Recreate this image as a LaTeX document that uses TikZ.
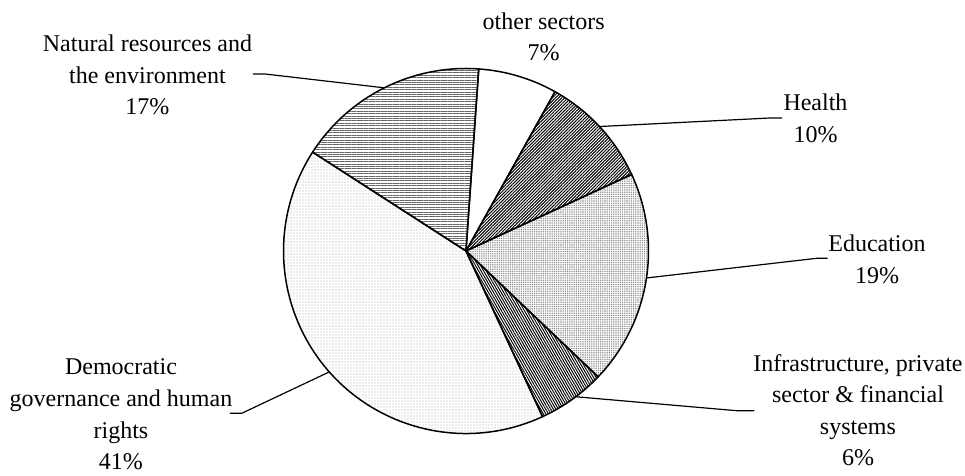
\documentclass[tikz,border=0pt]{standalone}
\usepackage{fontspec}
\setmainfont{Liberation Serif}
\usetikzlibrary{patterns.meta}
\tikzset{
  slice/.style={draw=black,line width=0.75pt,line join=round},
  leader/.style={draw=black,line width=0.6pt},
  lbl/.style={align=center,inner sep=0pt,font=\fontsize{12}{15.8}\selectfont},
  fillother/.style={fill=white},
  fillhealth/.style={pattern={Lines[angle=45,distance=1.1pt,line width=0.5pt]},pattern color=black},
  filleduc/.style={pattern={Dots[radius=0.38pt,distance=1.1pt]},pattern color=black!45},
  fillinfra/.style={pattern={Lines[angle=-60,distance=1.1pt,line width=0.5pt]},pattern color=black},
  filldemoc/.style={pattern={Dots[radius=0.3pt,distance=1.5pt]},pattern color=black!30},
  fillnatural/.style={pattern={Lines[angle=0,distance=1.2pt,line width=0.4pt]},pattern color=black!60}
}
\newcommand{\R}{182.5}

\begin{document}
\begin{tikzpicture}[x=0.5pt,y=0.5pt]
      \fill[white] (-466,-225) rectangle (499,251);
      \useasboundingbox (-466,-225) rectangle (499,251);
      % slices
      \foreach \a/\b/\s in {86/60.8/fillother,60.8/24.8/fillhealth,24.8/-43.6/filleduc,
                            -43.6/-65.2/fillinfra,-65.2/-212.8/filldemoc,147.2/86/fillnatural}
        \path[\s] (0,0) -- (\a:\R) arc[start angle=\a,end angle=\b,radius=\R] -- cycle;
      \foreach \a/\b in {86/60.8,60.8/24.8,24.8/-43.6,-43.6/-65.2,-65.2/-212.8,147.2/86}
        \draw[slice] (0,0) -- (\a:\R) arc[start angle=\a,end angle=\b,radius=\R] -- cycle;
      % labels
      \node[lbl] (natural) at (-318.5,176) {Natural resources and\\the environment\\17\%};
      \node[lbl] (other) at (77.7,214) {other sectors\\7\%};
      \node[lbl] (health) at (349.5,132.5) {Health\\10\%};
      \node[lbl] (educ) at (411,-8.3) {Education\\19\%};
      \node[lbl] (infra) at (392,-159.2) {Infrastructure, private\\sector \& financial\\systems\\6\%};
      \node[lbl] (democ) at (-345,-163.5) {Democratic\\governance and human\\rights\\41\%};
      % leader lines
      \coordinate (natural-p) at (116.6:\R);
      \coordinate (natural-k) at (-201,177);
      \coordinate (natural-e) at (-213,177);
      \coordinate (health-p) at (43:\R);
      \coordinate (health-k) at (304,133);
      \coordinate (health-e) at (316,133);
      \coordinate (educ-p) at (-8.5:\R);
      \coordinate (educ-k) at (350.7,-7.3);
      \coordinate (educ-e) at (361.7,-7.3);
      \coordinate (infra-p) at (-53:\R);
      \coordinate (infra-k) at (270.7,-159.7);
      \coordinate (infra-e) at (288.3,-159.7);
      \coordinate (democ-p) at (-138.5:\R);
      \coordinate (democ-k) at (-224.3,-162.3);
      \coordinate (democ-e) at (-236,-162.3);
      \foreach \n in {natural,health,educ,infra,democ}
        \draw[leader] (\n-p) -- (\n-k) -- (\n-e);
    \end{tikzpicture}
\end{document}
